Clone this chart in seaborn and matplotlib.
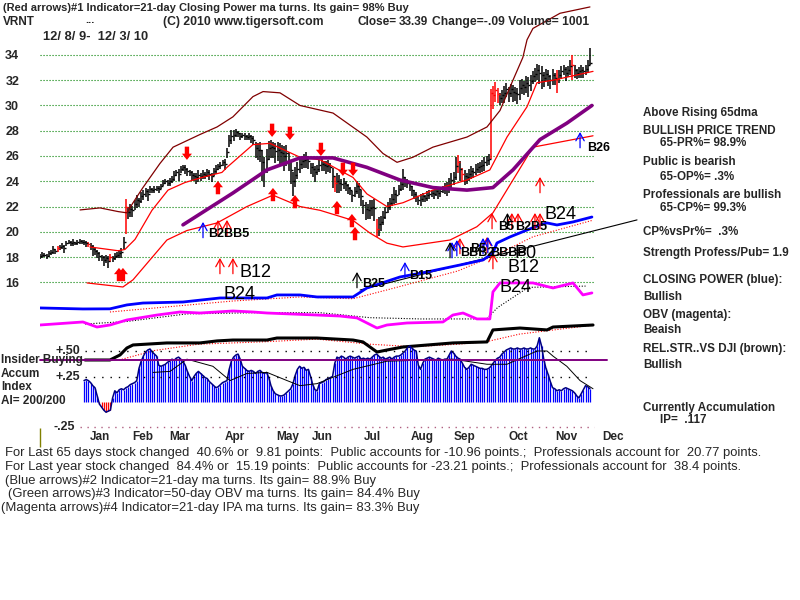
import matplotlib
matplotlib.use("Agg")
import matplotlib.pyplot as plt
import seaborn as sns

sns.set_theme(style="white")
plt.rcParams["font.family"] = ["Liberation Sans", "DejaVu Sans"]

# ---- values, day 0 = 12/8/09 ----
closes = [
    18.1, 18.2, 18.2, 18.1, 18.3, 18.4, 18.6, 18.5, 18.7, 18.8,
    18.9, 18.7, 19.1, 19.2, 19.1, 19.2, 19.1, 19.2, 19.3, 19.2,
    19.2, 19.1, 19.0, 18.9, 18.6, 18.5, 18.3, 18.1, 18.0, 17.8,
    17.9, 17.7, 18.0, 17.9, 18.1, 18.2, 18.3, 18.4, 19.2, 22.0,
    21.6, 21.8, 21.7, 22.2, 22.5, 22.4, 22.8, 23.0, 23.2, 23.0,
    23.4, 23.3, 23.4, 23.5, 23.4, 23.6, 23.9, 24.0, 23.9, 24.0,
    24.2, 24.5, 24.7, 24.6, 25.0, 25.1, 25.0, 24.8, 24.7, 24.5,
    24.4, 24.3, 24.5, 24.4, 24.6, 24.5, 24.7, 24.6, 24.4, 24.8,
    25.0, 25.2, 25.3, 25.5, 25.4, 26.3, 27.3, 27.6, 27.7, 27.9,
    27.8, 27.6, 27.7, 27.6, 27.5, 27.6, 27.4, 27.3, 26.6, 26.5,
    26.5, 25.5, 25.0, 25.8, 26.6, 26.7, 26.6, 26.4, 26.5, 26.3,
    26.2, 26.0, 26.2, 25.7, 24.9, 24.0, 24.5, 25.0, 25.4, 25.6,
    25.7, 25.8, 25.6, 25.1, 25.0, 24.7, 25.0, 25.3, 25.4, 25.3,
    25.2, 25.3, 25.1, 24.4, 23.9, 24.0, 23.9, 23.8, 23.9, 23.7,
    23.5, 23.3, 22.9, 23.2, 23.6, 23.4, 22.8, 22.1, 21.8, 21.7,
    21.9, 22.0, 21.9, 20.2, 20.6, 20.8, 21.2, 21.6, 22.0, 22.3,
    22.6, 23.0, 22.9, 23.4, 23.8, 24.3, 24.0, 23.9, 23.6, 23.3,
    23.0, 22.8, 22.5, 22.6, 22.8, 22.7, 22.9, 23.0, 23.1, 23.0,
    23.2, 23.1, 23.2, 23.4, 23.5, 23.5, 23.8, 24.1, 24.3, 25.2,
    25.5, 25.0, 24.6, 24.4, 24.3, 24.6, 24.8, 24.7, 25.0, 25.1,
    25.2, 25.3, 25.5, 25.7, 25.8, 31.0, 30.8, 31.2, 30.9, 30.6,
    30.8, 31.0, 31.3, 31.0, 31.3, 31.1, 31.0, 30.9, 31.4, 31.6,
    31.5, 31.8, 31.6, 31.9, 32.3, 32.5, 32.8, 32.6, 32.4, 32.2,
    32.5, 32.3, 32.0, 32.4, 32.2, 32.1, 32.4, 32.7, 32.9, 32.6,
    32.8, 33.1, 33.2, 32.8, 32.6, 32.7, 32.8, 32.7, 32.9, 33.2,
    33.39,
]
bar_range = [
    .4, .5, .3, .4, .5, .4, .6, .4, .5, .4,
    .5, .6, .4, .3, .4, .5, .3, .4, .4, .3,
    .4, .5, .4, .6, .9, .5, .6, .7, .5, .8,
    .6, .9, .7, .5, .6, .5, .6, .8, 1.0, 1.2,
    1.0, 1.0, .9, .8, 1.0, .7, .9, .8, .7, 1.0,
    .5, .4, .5, .4, .5, .4, .5, .4, .5, .6,
    .6, .8, .5, .9, .6, .5, .7, .6, .5, .7,
    .6, .8, .9, .6, .7, .5, .6, .8, .7, .6,
    .7, .5, .6, .5, .9, .8, 1.0, 1.1, .8, .6,
    .5, .6, .4, .5, .4, .5, .6, .7, 1.2, 1.3,
    1.6, 2.4, 2.4, 1.9, 1.5, 1.4, 1.2, 1.6, 1.5, 1.8,
    1.6, 2.0, 1.7, 1.5, 1.8, 1.9, 1.6, 1.4, 1.2, 1.0,
    1.1, 1.3, 1.0, .9, 1.1, 1.2, .8, .9, 1.0, .8,
    1.0, .9, .8, 1.6, 1.2, 1.6, 1.4, 1.0, .9, .8,
    .8, .7, .9, .8, 1.0, 1.2, 1.3, 1.1, 1.4, 1.2,
    1.5, 1.3, 1.8, 2.2, 1.5, 1.2, 1.1, 1.0, .9, 1.0,
    .9, 1.3, 1.0, .8, .9, 1.6, .8, .7, .6, .8,
    .7, .8, .6, .9, .7, .6, .8, .7, .6, .7,
    .6, .8, .7, .6, .9, 1.1, 1.2, 1.3, 1.0, 1.8,
    1.4, 1.6, 1.1, 1.2, .9, 1.0, 1.1, .8, .9, .8,
    .9, 1.0, 1.1, .8, .9, 1.0, 1.8, 1.6, 1.2, 1.0,
    1.0, 1.3, 1.1, 1.2, 1.0, 1.4, 1.1, 1.3, 1.6, 1.2,
    1.1, 1.4, 1.6, 1.2, 1.0, 1.1, 1.3, 1.5, 1.8, 1.2,
    1.0, 1.2, 1.1, 1.3, 1.0, 1.8, 1.1, 1.0, .8, 1.1,
    .9, 1.2, 2.0, 1.0, .8, .9, 1.0, .9, .8, 1.0,
    1.4,
]
long_bars = {39: (19.8, 22.6), 153: (19.6, 21.0), 205: (25.8, 31.3), 250: (33.2, 34.55)}
red_bars = [8, 22, 32, 39, 134, 153, 190, 192, 205, 206, 207, 208, 235, 242]

accum_start = 20
accum = [
    .21, .22, .21, .19, .16, .14, .06, -.02, -.05, -.08,
    -.10, -.09, -.08, .04, .11, .09, .12, .13, .12, .14,
    .15, .17, .18, .19, .21, .33, .40, .45, .49, .51,
    .52, .49, .47, .45, .36, .35, .36, .37, .39, .40,
    .42, .41, .43, .44, .42, .40, .36, .30, .25, .21,
    .25, .28, .30, .28, .26, .24, .23, .20, .18, .16,
    .14, .15, .17, .19, .20, .21, .32, .40, .44, .46,
    .47, .42, .35, .33, .31, .30, .31, .30, .28, .30,
    .31, .29, .28, .29, .24, .16, .11, .08, .07, .06,
    .06, .07, .09, .11, .13, .18, .26, .32, .35, .33,
    .34, .31, .32, .25, .17, .12, .11, .18, .19, .20,
    .22, .23, .24, .25, .38, .44, .43, .45, .44, .42,
    .44, .45, .44, .43, .44, .45, .42, .43, .42, .43,
    .42, .44, .46, .47, .45, .43, .44, .42, .43, .44,
    .42, .44, .45, .45, .46, .48, .50, .53, .55, .53,
    .51, .50, .36, .32, .38, .42, .43, .44, .43, .42,
    .41, .43, .42, .41, .42, .42, .46, .50, .48, .45,
    .43, .42, .38, .34, .32, .34, .37, .36, .35, .34,
    .33, .33, .32, .32, .33, .35, .38, .41, .43, .44,
    .47, .49, .51, .52, .53, .52, .52, .53, .52, .52,
    .53, .52, .52, .53, .52, .52, .55, .63, .55, .42,
    .33, .27, .20, .14, .13, .11, .12, .11, .13, .14,
    .13, .12, .11, .09, .06, .04, .08, .12, .16, .15,
    .13,
]
accum_ma = [(51.4, .29), (59.1, .30), (66.8, .42), (78.6, .35), (86.4, .21), (94.1, .28),
            (103.2, .29), (112.3, .21), (118.2, .16), (125.9, .18), (142.3, .32), (157.7, .40),
            (187.7, .42), (203.2, .37), (212.3, .37), (225.9, .50), (230.5, .50), (233.2, .45),
            (239.5, .35), (245.5, .21), (251.4, .13)]

upper_band = [(18.2, 21.73), (27.3, 21.89), (35.5, 21.6), (39.5, 21.5), (42.3, 22.3), (46.8, 23.5),
              (54.5, 25.4), (60.5, 26.7), (72.7, 27.7), (80.5, 28.3), (87.7, 29.1), (96.8, 30.7),
              (101.4, 31.1), (109.1, 31.0), (118.2, 30.0), (133.2, 29.4), (148.6, 27.5), (155.9, 26.2),
              (162.3, 25.5), (169.5, 25.9), (178.6, 26.7), (194.1, 27.5), (203.2, 28.3), (209.1, 29.6),
              (215, 32.0), (219.5, 33.8), (221.4, 35.2), (224.1, 36.1), (236.4, 37.3), (250, 37.8)]
mid_band = [(22.7, 18.8), (35.5, 18.5), (38.6, 18.6), (43.2, 19.4), (50.9, 21.7), (58.2, 23.3),
            (65.9, 23.9), (73.6, 24.3), (82.7, 24.7), (85, 25.1), (96.8, 26.9), (104.5, 27.0),
            (118.2, 25.9), (127.3, 25.7), (142.3, 24.3), (148.6, 23.0), (157.7, 22.0), (165, 22.3),
            (178.6, 23.3), (194.1, 24.1), (204.5, 24.9), (212.3, 27.5), (221.4, 29.9), (225.9, 31.8),
            (233.2, 32.0), (251.4, 32.7)]
lower_band = [(21.4, 15.95), (37.7, 15.63), (42.3, 16.2), (57.7, 19.35), (66.8, 20.1), (80.5, 20.7),
              (94.1, 22.0), (105.9, 22.9), (118.2, 22.0), (127.3, 21.7), (142.3, 20.9), (150, 19.9),
              (157.7, 19.1), (165, 18.8), (186.4, 19.35), (198.6, 20.4), (205.9, 21.5), (215, 24.1),
              (224.1, 26.7), (233.2, 27.0), (251.4, 27.6)]
ma65 = [(65, 20.55), (87.7, 23.07), (103.2, 24.9), (118.2, 25.85), (133.2, 25.85), (148.6, 25.1),
        (163.6, 24.1), (178.6, 23.5), (194.1, 23.3), (205.9, 23.5), (215, 24.9), (227.3, 27.3),
        (239.5, 28.6), (250.9, 30.0)]

# lower indicator lines, drawn on the price scale as in the original
closing_power = [(0, 13.97), (19.5, 13.89), (31.8, 13.9), (39.5, 14.21), (46.8, 14.36), (65, 14.44),
                 (81.8, 14.76), (103.2, 14.76), (107.7, 15.0), (118.2, 15.0), (125.9, 14.84),
                 (142.3, 14.84), (148.6, 15.55), (163.6, 16.42), (175.9, 16.82), (190.9, 17.37),
                 (201.4, 17.77), (205.9, 18.32), (207.7, 19.11), (213.6, 19.59), (221.4, 20.14),
                 (227.3, 20.54), (230.5, 20.7), (235, 20.54), (242.3, 20.78), (250.9, 21.17)]
cp_ma = [(31.8, 13.65), (87.7, 14.52), (118.2, 14.84), (142.3, 14.7), (160, 15.5), (190, 16.9),
         (209, 18.3), (224, 19.6), (251, 20.9)]
cp_trend = [(145.5, 15.39), (271.4, 20.94)]
obv = [(0, 12.62), (19.5, 12.86), (25.9, 12.46), (31.8, 12.62), (39.5, 13.02), (53.2, 13.41),
       (63.6, 13.65), (72.7, 13.57), (87.7, 13.73), (96.8, 13.65), (103.2, 13.57), (125.9, 13.41),
       (136.4, 13.33), (144.1, 13.18), (153.2, 12.38), (157.7, 12.62), (166.8, 12.78), (183.2, 12.86),
       (187.7, 13.41), (192.3, 13.57), (198.6, 13.1), (204.5, 13.1), (205.9, 15.24), (209.1, 15.95),
       (224.1, 15.95), (233.2, 15.55), (242.3, 15.95), (246.8, 15.0), (250.9, 15.16)]
obv_ma = [(20.5, 12.7), (39.5, 12.9), (53, 13.2), (66.8, 13.5), (100, 13.6), (127, 13.6), (150, 13.2),
          (173, 13.1), (203, 13.1), (208, 14.0), (215, 14.8), (222, 15.6), (248, 15.7)]
rel_str = [(20.5, 9.85), (31.8, 9.85), (36.4, 10.25), (39.5, 10.8), (42.3, 11.04), (57.7, 11.2),
           (72.7, 11.2), (80.5, 11.36), (87.7, 11.43), (103.2, 11.43), (107.7, 11.59), (125.9, 11.59),
           (142.3, 11.43), (146.8, 11.28), (153.2, 10.48), (157.7, 10.64), (165, 10.88), (187.7, 11.2),
           (203.2, 11.28), (205.9, 12.23), (218.2, 12.38), (230.5, 12.23), (233.2, 12.46), (251.4, 12.62)]
rs_ma = [(36, 9.85), (52, 10.6), (72, 11.1), (103, 11.3), (126, 11.5), (150, 11.1), (170, 10.9),
         (190, 11.1), (203, 11.3), (218, 11.9), (251, 12.6)]

price_ticks = [16, 18, 20, 22, 24, 26, 28, 30, 32, 34]
months = ["Jan", "Feb", "Mar", "Apr", "May", "Jun", "Jul", "Aug", "Sep", "Oct", "Nov", "Dec"]
month_pos = [27.3, 46.8, 63.6, 88.6, 112.7, 128.2, 150.9, 173.6, 193.2, 217.3, 239.1, 260.5]

red_up_big = [(35.9, 17.14), (37.7, 17.14), (80.9, 24.02), (105.9, 23.47), (115.9, 22.91),
              (135, 22.44), (141.8, 21.41), (143.2, 20.38)]
red_down_big = [(66.8, 25.69), (105.5, 27.51), (113.6, 27.27), (127.7, 26.0), (137.7, 24.42), (142.3, 24.42)]
red_up_thin = [(80.9, 20.94), (85, 20.94), (81.8, 17.93), (87.7, 17.93), (227.3, 24.34), (205.5, 21.49),
               (214.5, 21.49), (217.3, 21.49), (225, 21.49), (227.3, 21.49), (190.9, 19.51),
               (203.2, 19.59), (205.9, 18.32)]
blue_up_thin = [(74.1, 20.78), (165.9, 17.61), (187.3, 19.19), (189.5, 19.35), (201.4, 19.51),
                (203.6, 19.59), (245.5, 27.9)]
black_up_thin = [(144.1, 16.82), (186.4, 19.19), (212.5, 21.49)]

signal_labels = [
    (76.4, 19.83, "B2BB5", False), (90.9, 16.74, "B12", True), (83.2, 15.0, "B24", True),
    (146.4, 15.87, "B25", False), (167.7, 16.5, "B15", False), (248.6, 26.64, "B26", False),
    (229.5, 21.33, "B24", True), (212.7, 17.21, "B12", True), (209.1, 15.55, "B24", True),
    (208.2, 20.38, "B5", False), (215.9, 20.38, "B2B5", False), (190.9, 18.32, "BBB2", False),
    (195.5, 18.64, "B5", False), (204.5, 18.32, "BBBB", False), (215.5, 18.3, "P0", True),
]

header = [
    (3, 8, "(Red arrows)#1 Indicator=21-day Closing Power ma turns. Its gain= 98% Buy", 8),
    (3, 22, "VRNT", 8.5), (85, 20, "...", 8),
    (163, 22, "(C) 2010 www.tigersoft.com", 8.8),
    (358, 22, "Close=", 8.5), (399, 22, "33.39", 8.5),
    (432, 22, "Change=-.09 Volume= 1001", 8.7),
    (43, 37, "12/ 8/ 9-  12/ 3/ 10", 9.3),
]
side_notes = [
    (643, 113, "Above Rising 65dma"), (643, 131, "BULLISH PRICE TREND"), (660, 143, "65-PR%= 98.9%"),
    (643, 162, "Public is bearish"), (660, 177, "65-OP%= .3%"), (643, 195, "Professionals are bullish"),
    (660, 208, "65-CP%= 99.3%"), (643, 232, "CP%vsPr%=  .3%"), (643, 253, "Strength Profess/Pub= 1.9"),
    (643, 280, "CLOSING POWER (blue):"), (643, 297, "Bullish"), (643, 315, "OBV (magenta):"),
    (643, 330, "Beaish"), (643, 349, "REL.STR..VS DJI (brown):"), (643, 365, "Bullish"),
    (643, 408, "Currently Accumulation"), (660, 420, "IP=  .117"),
]
left_notes = [(1, 360, "Insider Buying"), (1, 374, "Accum"), (1, 387, "Index"), (1, 401, "AI= 200/200")]
footer = [
    (5, 453, "For Last 65 days stock changed  40.6% or  9.81 points:  Public accounts for -10.96 points.;  Professionals account for  20.77 points."),
    (5, 467, "For Last year stock changed  84.4% or  15.19 points:  Public accounts for -23.21 points.;  Professionals account for  38.4 points."),
    (5, 481, "(Blue arrows)#2 Indicator=21-day ma turns. Its gain= 88.9% Buy"),
    (8, 494, "(Green arrows)#3 Indicator=50-day OBV ma turns. Its gain= 84.4% Buy"),
    (1, 508, "(Magenta arrows)#4 Indicator=21-day IPA ma turns. Its gain= 83.3% Buy"),
]

# ---- layout ----
fig = plt.figure(figsize=(8, 6), dpi=100)
fig.patch.set_facecolor("white")


def box(x0, y0, x1, y1):
    return [x0 / 800, 1 - y1 / 600, (x1 - x0) / 800, (y1 - y0) / 600]


def ftext(x, y, s, **kw):
    fig.text(x / 800, 1 - y / 600, s, ha="left", va="center", **kw)


ax = fig.add_axes(box(40, 0, 595, 445))
acc = fig.add_axes(box(40, 330, 595, 450))
for a in (ax, acc):
    a.set_xlim(0, 252.3)
    for sp in a.spines.values():
        sp.set_visible(False)
    a.set_xticks([])
ax.set_ylim(3.12, 38.35)
acc.set_ylim(-0.4706, 0.7059)
acc.patch.set_alpha(0)
acc.set_yticks([])

ax.set_yticks(price_ticks)
ax.set_yticklabels([str(t) for t in price_ticks], fontsize=9, fontweight="bold")
ax.tick_params(axis="y", length=0, pad=15)
ax.yaxis.grid(True, color="#008000", linestyle=(0, (1, 1.7)), lw=0.8)
ax.xaxis.grid(False)


def curve(axis, pts, **kw):
    xs = [p[0] for p in pts]
    ys = [p[1] for p in pts]
    sns.lineplot(x=xs, y=ys, ax=axis, sort=False, estimator=None, legend=False, **kw)


# price bars
days = list(range(len(closes)))
lows, highs = [], []
for d, (c, r) in enumerate(zip(closes, bar_range)):
    lo, hi = long_bars.get(d, (c - 0.6 * r, c + 0.4 * r))
    lows.append(lo)
    highs.append(hi)
bar_cols = ["#ff0000" if d in red_bars else "black" for d in days]
ax.vlines(days, lows, highs, colors=bar_cols, lw=1.1)
ax.hlines(closes, days, [d + 0.9 for d in days], colors=bar_cols, lw=1)

# bands and moving average
curve(ax, upper_band, color="#800000", lw=0.9)
curve(ax, mid_band, color="#ff0000", lw=0.9)
curve(ax, lower_band, color="#ff0000", lw=0.9)
curve(ax, ma65, color="#800080", lw=2.6)

# closing power, OBV, relative strength
curve(ax, cp_ma, color="#ff0000", lw=0.8, linestyle=(0, (1, 1.5)))
curve(ax, cp_trend, color="black", lw=0.8, clip_on=False)
curve(ax, closing_power, color="#0000ff", lw=2)
curve(ax, obv_ma, color="black", lw=0.8, linestyle=(0, (1, 1.5)))
curve(ax, obv, color="#ff00ff", lw=2)
curve(ax, rs_ma, color="#ff0000", lw=0.8, linestyle=(0, (1, 1.5)))
curve(ax, rel_str, color="black", lw=2.2)


# signal arrows
def arrows(pts, color, big, down=False):
    length = 1.05 if big else 1.25
    for d, tip in pts:
        tail = tip + length if down else tip - length
        if big:
            props = dict(arrowstyle="simple,head_length=0.5,head_width=0.8,tail_width=0.35",
                         color=color, lw=0, shrinkA=0, shrinkB=0, mutation_scale=9)
        else:
            props = dict(arrowstyle="->,head_length=0.45,head_width=0.25",
                         color=color, lw=0.9, shrinkA=0, shrinkB=0)
        ax.annotate("", xy=(d, tip), xytext=(d, tail), arrowprops=props)


arrows(red_up_big, "#ff0000", True)
arrows(red_down_big, "#ff0000", True, down=True)
arrows(red_up_thin, "#ff0000", False)
arrows(blue_up_thin, "#0000ff", False)
arrows(black_up_thin, "black", False)

for d, p, s, big in signal_labels:
    ax.text(d, p, s, fontsize=13 if big else 9, fontweight="normal" if big else "bold",
            ha="left", va="center", color="black")

# accumulation index panel
acc_days = list(range(accum_start, accum_start + len(accum)))
acc_cols = ["#ff0000" if v < 0 else "#0000ff" for v in accum]
acc.vlines(acc_days, 0, accum, colors=acc_cols, lw=0.9)
curve(acc, list(zip(acc_days, accum)), color="#000080", lw=1.1)
curve(acc, accum_ma, color="black", lw=0.7)
acc.hlines([0.5, 0.25], 20.5, 251, colors="black", lw=1, linestyles=[(0, (1, 5))])
acc.hlines(-0.25, 18, 252, colors="#b06080", lw=1, linestyles=[(0, (1, 4))])
curve(acc, [(0, 0.41), (257.7, 0.41)], color="#800080", lw=1.4, clip_on=False)
acc.vlines(0, -0.44, -0.255, colors="#808000", lw=1, clip_on=False)
for lvl, lab, right in [(0.5, "+.50", 18.2), (0.25, "+.25", 18.2), (-0.25, "-.25", 15.9)]:
    acc.text(right, lvl, lab, ha="right", va="center", fontsize=9, fontweight="bold")
for pos, m in zip(month_pos, months):
    acc.text(pos, -0.343, m, ha="center", va="center", fontsize=8.5, fontweight="bold")

# texts around the chart
for x, y, s, size in header:
    ftext(x, y, s, fontsize=size, fontweight="bold")
for x, y, s in side_notes:
    ftext(x, y, s, fontsize=8.4, fontweight="bold")
for x, y, s in left_notes:
    ftext(x, y, s, fontsize=8.5, fontweight="bold")
for x, y, s in footer:
    ftext(x, y, s, fontsize=9.35)

fig.savefig("out.png", dpi=100, facecolor="white")
